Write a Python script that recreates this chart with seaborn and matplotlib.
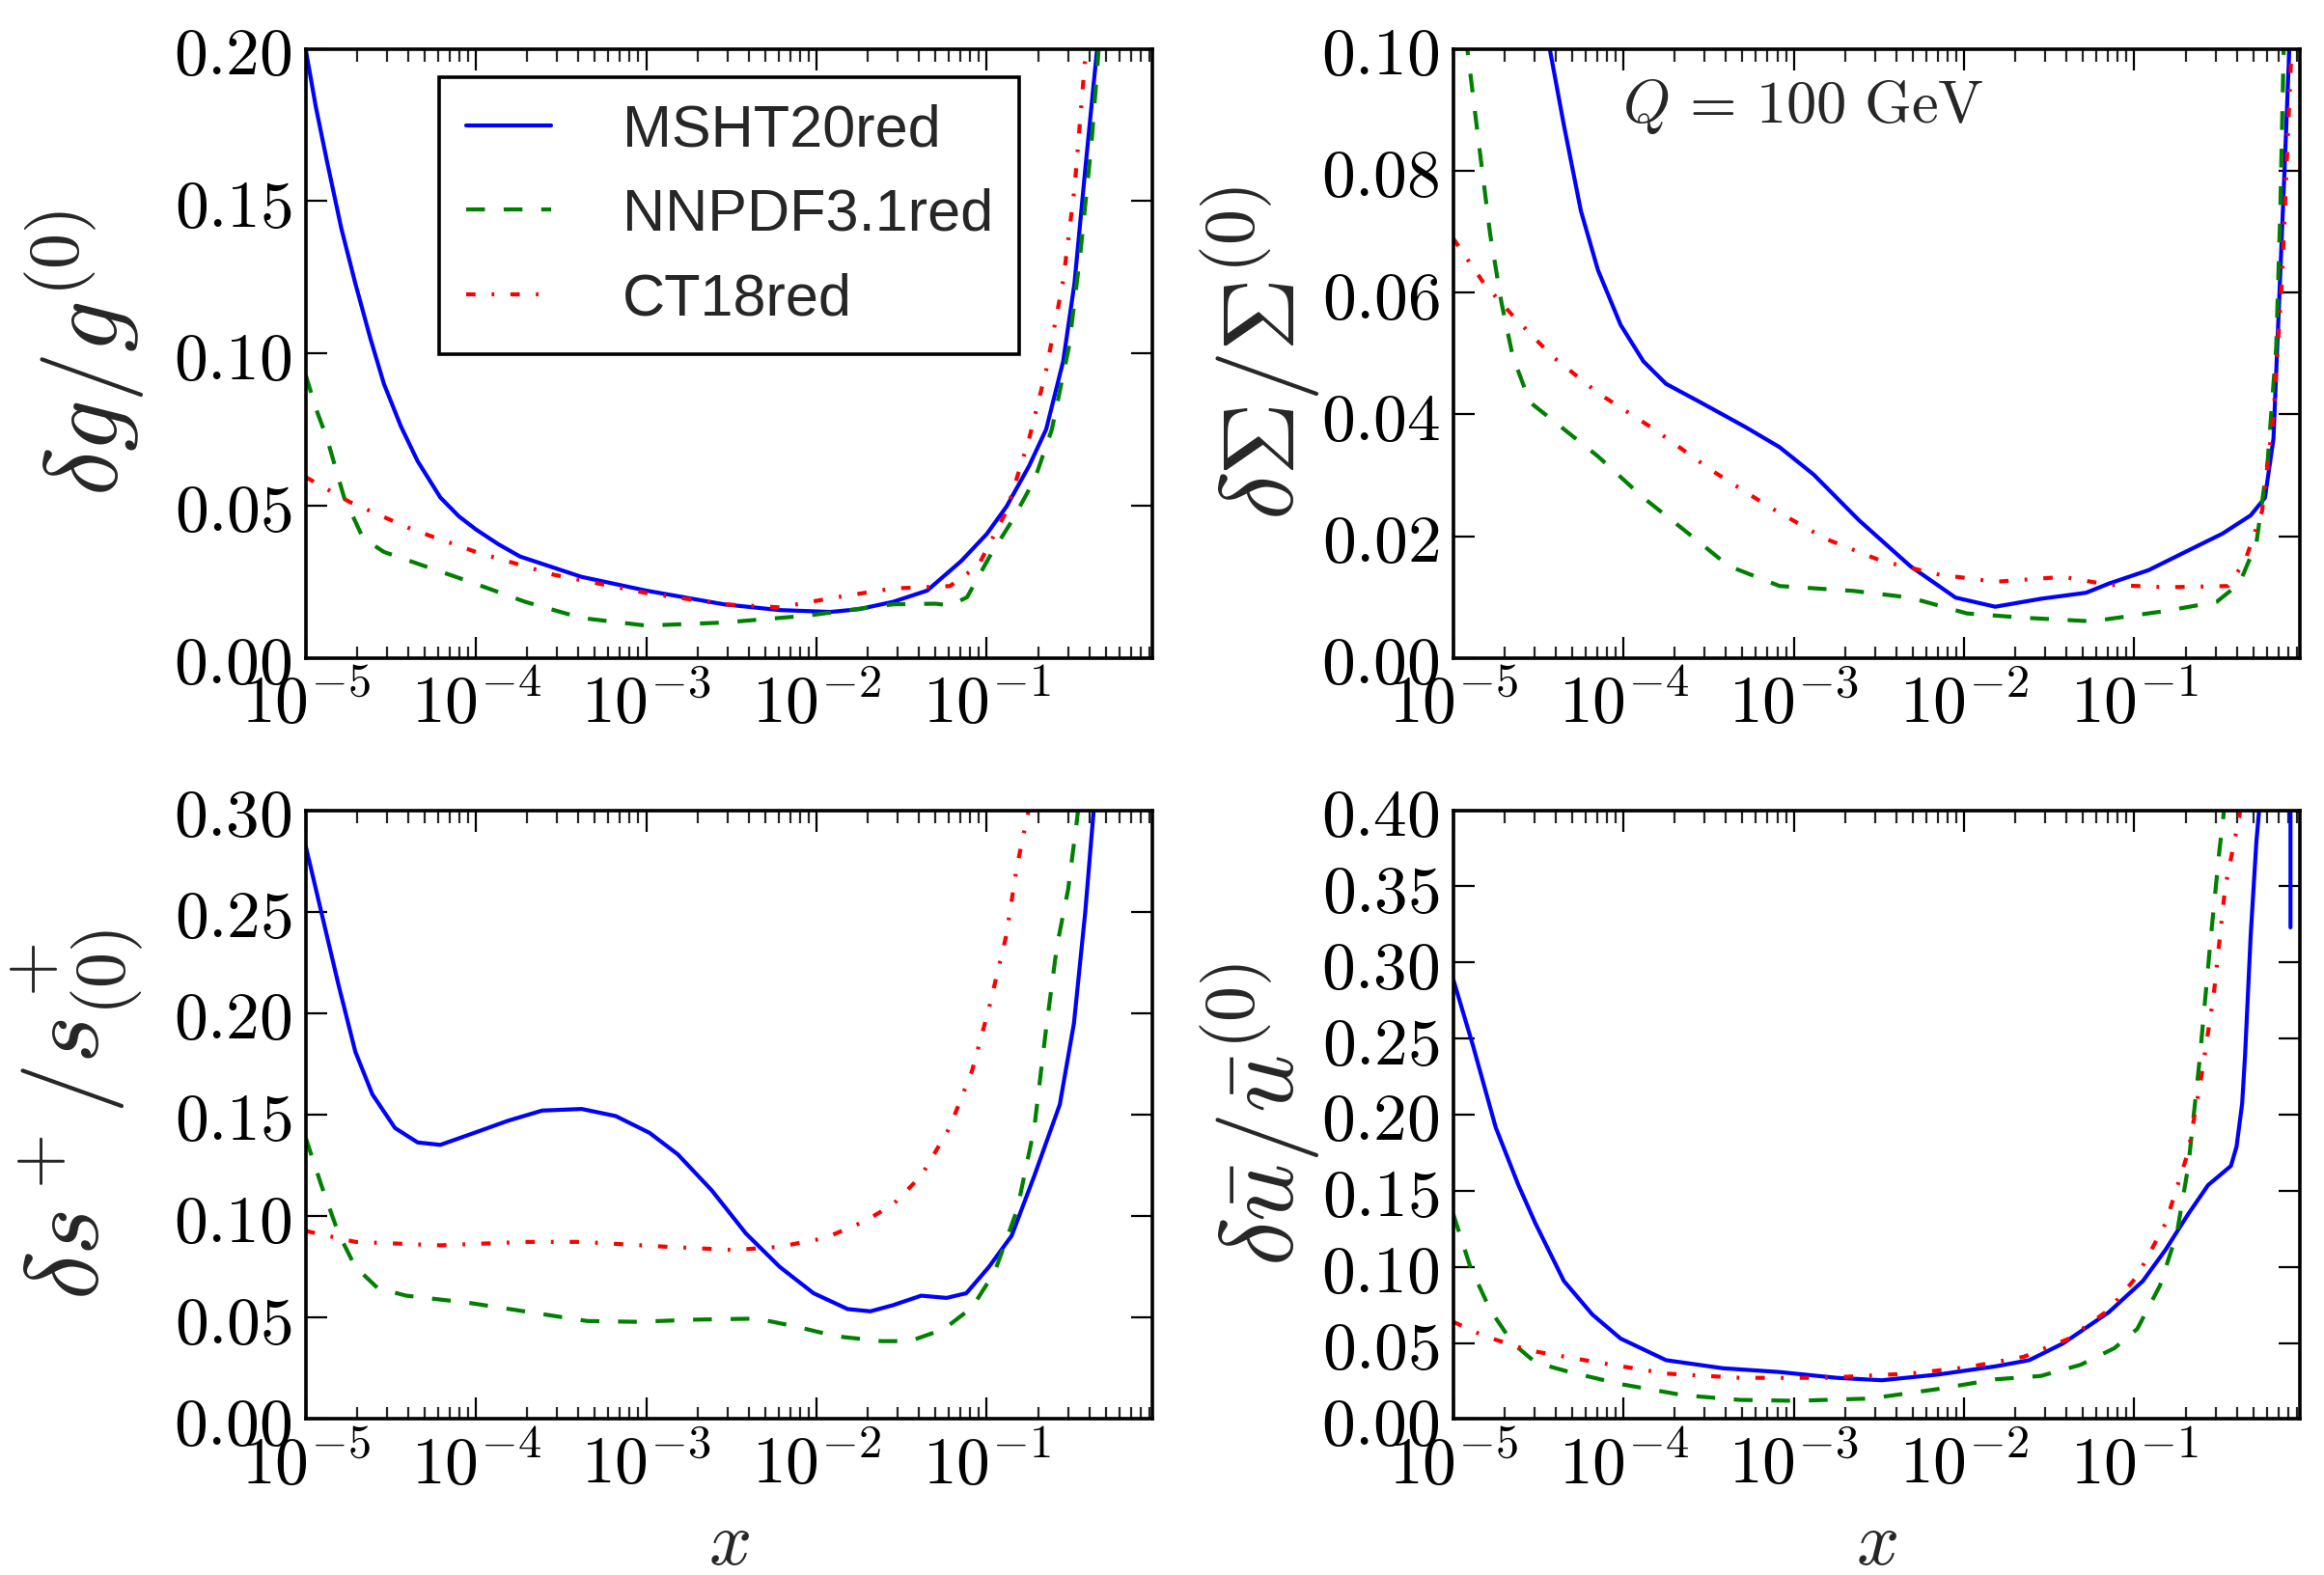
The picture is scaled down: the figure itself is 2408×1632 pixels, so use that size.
import numpy as np
import pandas as pd
import matplotlib
matplotlib.use("Agg")
import matplotlib.pyplot as plt
from matplotlib.ticker import FuncFormatter, LogLocator, FixedLocator, NullFormatter
import seaborn as sns

# ---------------- data (x given as log10(x)) ----------------
sets = ["MSHT20red", "NNPDF3.1red", "CT18red"]

# delta g / g
g_msht_lx = [-5, -4.94, -4.874, -4.79, -4.708, -4.62, -4.54, -4.44, -4.342, -4.209, -4.1, -4.0, -3.87, -3.741,
             -3.379, -3.0, -2.545, -2.216, -1.917, -1.75, -1.551, -1.35, -1.15, -1.0, -0.884, -0.751, -0.651,
             -0.551, -0.485, -0.419, -0.352, -0.32]
g_msht = [0.200, 0.181, 0.163, 0.141, 0.123, 0.105, 0.090, 0.076, 0.0646, 0.0527, 0.0465, 0.0422, 0.0374, 0.0333,
          0.0266, 0.0221, 0.0176, 0.0157, 0.0151, 0.0160, 0.0184, 0.0221, 0.0318, 0.0407, 0.0497, 0.0631, 0.0751,
          0.0975, 0.123, 0.162, 0.200, 0.22]
g_nnpdf_lx = [-5, -4.94, -4.874, -4.774, -4.674, -4.60, -4.54, -4.309, -4.04, -3.71, -3.379, -3.0, -2.545, -2.05,
              -1.55, -1.3, -1.216, -1.116, -0.983, -0.85, -0.718, -0.618, -0.518, -0.452, -0.385, -0.352, -0.33]
g_nnpdf = [0.093, 0.082, 0.072, 0.0527, 0.0407, 0.0370, 0.0348, 0.0303, 0.0251, 0.0184, 0.0131, 0.0106, 0.0116,
           0.0139, 0.0176, 0.0178, 0.0172, 0.0199, 0.0333, 0.0452, 0.0587, 0.075, 0.102, 0.132, 0.169, 0.193, 0.21]
g_ct_lx = [-5, -4.741, -4.375, -4.0, -3.542, -3.0, -2.545, -2.216, -1.884, -1.551, -1.216, -1.05, -0.884,
           -0.751, -0.651, -0.551, -0.485, -0.419, -0.39]
g_ct = [0.0594, 0.0512, 0.0422, 0.0348, 0.0273, 0.0213, 0.0176, 0.0166, 0.0199, 0.0228, 0.0236, 0.0303, 0.0482,
        0.072, 0.0945, 0.124, 0.154, 0.199, 0.22]

# delta Sigma / Sigma
S_msht_lx = [-4.5, -4.433, -4.35, -4.25, -4.15, -4.017, -3.883, -3.75, -3.55, -3.283, -3.083, -2.883, -2.617,
             -2.317, -2.05, -1.817, -1.55, -1.283, -1.15, -0.917, -0.65, -0.483, -0.317, -0.233, -0.183, -0.15,
             -0.117, -0.09, -0.08]
S_msht = [0.112, 0.100, 0.0875, 0.0734, 0.0637, 0.0547, 0.0487, 0.045, 0.042, 0.0379, 0.0346, 0.0301, 0.0226,
          0.0151, 0.0099, 0.0084, 0.0097, 0.0107, 0.0122, 0.0144, 0.0181, 0.0204, 0.0234, 0.0263, 0.036, 0.0584,
          0.0808, 0.100, 0.110]
S_nnpdf_lx = [-5, -4.917, -4.85, -4.783, -4.717, -4.65, -4.55, -4.383, -4.15, -3.883, -3.617, -3.383, -3.083,
              -2.65, -2.317, -1.983, -1.65, -1.25, -0.817, -0.517, -0.383, -0.283, -0.217, -0.167, -0.143,
              -0.123, -0.11]
S_nnpdf = [0.125, 0.100, 0.0846, 0.0696, 0.0584, 0.0495, 0.042, 0.0383, 0.0331, 0.0263, 0.0204, 0.0151, 0.0118,
           0.011, 0.0099, 0.0073, 0.0066, 0.006, 0.0077, 0.0092, 0.0122, 0.0189, 0.0323, 0.051, 0.0734,
           0.100, 0.110]
S_ct_lx = [-5, -4.817, -4.65, -4.417, -4.15, -3.817, -3.483, -3.15, -2.817, -2.483, -2.15, -1.817, -1.417,
           -1.15, -0.817, -0.45, -0.35, -0.25, -0.183, -0.133, -0.1, -0.077, -0.06]
S_ct = [0.0689, 0.0614, 0.0562, 0.0495, 0.0435, 0.0375, 0.0308, 0.0249, 0.0196, 0.0159, 0.0137, 0.0125, 0.0133,
        0.012, 0.0116, 0.0118, 0.0159, 0.0241, 0.0398, 0.0622, 0.0846, 0.100, 0.115]

# delta s+ / s+
sp_msht_lx = [-5, -4.907, -4.807, -4.708, -4.608, -4.475, -4.342, -4.209, -4.01, -3.811, -3.611, -3.379, -3.179,
              -2.98, -2.814, -2.615, -2.415, -2.216, -2.017, -1.817, -1.684, -1.551, -1.385, -1.236, -1.12,
              -0.987, -0.854, -0.721, -0.571, -0.488, -0.422, -0.372, -0.35]
sp_msht = [0.2825, 0.2495, 0.214, 0.181, 0.160, 0.1434, 0.1363, 0.1351, 0.141, 0.147, 0.152, 0.1528, 0.1493,
           0.141, 0.1304, 0.1127, 0.0915, 0.075, 0.062, 0.0542, 0.0531, 0.0561, 0.0608, 0.0597, 0.062,
           0.075, 0.0903, 0.1198, 0.155, 0.195, 0.2495, 0.300, 0.32]
sp_nnpdf_lx = [-5, -4.907, -4.807, -4.708, -4.575, -4.409, -4.043, -3.678, -3.346, -3.047, -2.714, -2.349,
               -2.116, -1.884, -1.618, -1.452, -1.252, -1.086, -0.953, -0.821, -0.721, -0.654, -0.588, -0.522,
               -0.472, -0.45]
sp_nnpdf = [0.1387, 0.1151, 0.0915, 0.075, 0.0644, 0.0608, 0.0573, 0.0526, 0.0483, 0.0479, 0.049, 0.0495,
            0.0455, 0.0408, 0.0384, 0.0384, 0.0443, 0.055, 0.0726, 0.1033, 0.1434, 0.1906, 0.233, 0.261,
            0.294, 0.31]
sp_ct_lx = [-5, -4.708, -4.209, -3.711, -3.379, -2.88, -2.482, -2.216, -1.95, -1.718, -1.551, -1.385, -1.219,
            -1.086, -0.987, -0.887, -0.821, -0.754, -0.73]
sp_ct = [0.0927, 0.0873, 0.0856, 0.0873, 0.0873, 0.0849, 0.0833, 0.0849, 0.0892, 0.0974, 0.1057, 0.1198, 0.1434,
         0.1717, 0.2024, 0.2377, 0.273, 0.300, 0.31]

# delta ubar / ubar
u_msht_lx = [-5, -4.883, -4.75, -4.617, -4.517, -4.35, -4.183, -4.017, -3.75, -3.417, -3.083, -2.75, -2.483,
             -2.15, -1.817, -1.617, -1.417, -1.15, -0.95, -0.817, -0.683, -0.567, -0.5, -0.433, -0.4, -0.367,
             -0.35, -0.317, -0.283, -0.267, -0.25, -0.084, -0.083]
u_msht = [0.289, 0.245, 0.1915, 0.1537, 0.1285, 0.0907, 0.0687, 0.0529, 0.0387, 0.0334, 0.0309, 0.0271, 0.0255,
          0.0293, 0.0346, 0.0387, 0.0498, 0.0702, 0.0907, 0.1112, 0.1348, 0.1537, 0.160, 0.1663, 0.1789, 0.2072,
          0.2387, 0.3175, 0.380, 0.400, 0.450, 3.0, 0.323]
u_nnpdf_lx = [-5, -4.9, -4.783, -4.65, -4.517, -4.317, -4.017, -3.65, -3.317, -2.983, -2.55, -2.15, -1.817,
              -1.55, -1.317, -1.117, -0.983, -0.85, -0.75, -0.683, -0.617, -0.55, -0.5, -0.477, -0.46]
u_nnpdf = [0.1348, 0.1002, 0.0718, 0.0498, 0.0372, 0.0309, 0.023, 0.0157, 0.0126, 0.012, 0.0135, 0.0198, 0.0261,
           0.0283, 0.0356, 0.0466, 0.0592, 0.0876, 0.1222, 0.1663, 0.2356, 0.3175, 0.374, 0.396, 0.42]
u_ct_lx = [-5, -4.817, -4.55, -4.15, -3.75, -3.317, -2.817, -2.317, -1.983, -1.65, -1.383, -1.15, -0.983,
           -0.817, -0.683, -0.6, -0.533, -0.467, -0.383, -0.36]
u_ct = [0.0639, 0.0545, 0.045, 0.0372, 0.0299, 0.0271, 0.0271, 0.0299, 0.034, 0.0409, 0.0529, 0.0718, 0.0939,
        0.1285, 0.1758, 0.2293, 0.2797, 0.349, 0.396, 0.42]

panels = [
    dict(series=[(g_msht_lx, g_msht), (g_nnpdf_lx, g_nnpdf), (g_ct_lx, g_ct)],
         ylim=(0, 0.20), yticks=[0, 0.05, 0.10, 0.15, 0.20], ylabel=r"$\delta g/g^{(0)}$"),
    dict(series=[(S_msht_lx, S_msht), (S_nnpdf_lx, S_nnpdf), (S_ct_lx, S_ct)],
         ylim=(0, 0.10), yticks=[0, 0.02, 0.04, 0.06, 0.08, 0.10], ylabel=r"$\delta\Sigma/\Sigma^{(0)}$"),
    dict(series=[(sp_msht_lx, sp_msht), (sp_nnpdf_lx, sp_nnpdf), (sp_ct_lx, sp_ct)],
         ylim=(0, 0.30), yticks=[0, 0.05, 0.10, 0.15, 0.20, 0.25, 0.30], ylabel=r"$\delta s^+/s^+_{(0)}$"),
    dict(series=[(u_msht_lx, u_msht), (u_nnpdf_lx, u_nnpdf), (u_ct_lx, u_ct)],
         ylim=(0, 0.40), yticks=[0, 0.05, 0.10, 0.15, 0.20, 0.25, 0.30, 0.35, 0.40],
         ylabel=r"$\delta\bar{u}/\bar{u}^{(0)}$"),
]
xticks_major = [1e-5, 1e-4, 1e-3, 1e-2, 1e-1]
xlim = (1e-5, 0.94)

# ---------------- style ----------------
sns.set_style("ticks")
plt.rcParams.update({
    "mathtext.fontset": "cm",
    "font.family": ["DejaVu Sans"],
    "lines.scale_dashes": False,
    "axes.linewidth": 1.3,
    "axes.edgecolor": "black",
    "xtick.direction": "in",
    "ytick.direction": "in",
    "xtick.top": True,
    "ytick.right": True,
})

palette = {"MSHT20red": "#0000ff", "NNPDF3.1red": "#008000", "CT18red": "#ff0000"}
dashes = {"MSHT20red": "", "NNPDF3.1red": (7, 7), "CT18red": (3.5, 6, 1, 6)}

fig = plt.figure(figsize=(12.04, 8.16), dpi=200)
left_cols = [0.1315, 0.6253]
bottoms = [0.5823, 0.0990]
w, h = 0.3644, 0.3866
axes = []
for r in range(2):
    for c in range(2):
        axes.append(fig.add_axes([left_cols[c], bottoms[r], w, h]))

label_x = [-0.188, -0.155, -0.188, -0.155]

for i, (ax, p) in enumerate(zip(axes, panels)):
    rows = []
    for name, (lx, vals) in zip(sets, p["series"]):
        for a, b in zip(lx, vals):
            rows.append((name, 10.0 ** a, b))
    df = pd.DataFrame(rows, columns=["set", "x", "y"])
    sns.lineplot(data=df, x="x", y="y", hue="set", style="set", hue_order=sets, style_order=sets,
                 palette=palette, dashes=dashes, estimator=None, sort=False, legend=False,
                 linewidth=1.5, ax=ax)
    ax.set_xscale("log")
    ax.set_xlim(*xlim)
    ax.set_ylim(*p["ylim"])
    ax.xaxis.set_major_locator(FixedLocator(xticks_major))
    ax.xaxis.set_minor_locator(LogLocator(base=10, subs=np.arange(2, 10), numticks=20))
    ax.xaxis.set_minor_formatter(NullFormatter())
    ax.xaxis.set_major_formatter(FuncFormatter(lambda v, pos: r"$10^{%d}$" % int(round(np.log10(v)))))
    ax.yaxis.set_major_locator(FixedLocator(p["yticks"]))
    ax.yaxis.set_major_formatter(FuncFormatter(lambda v, pos: r"$%.2f$" % v))
    ax.tick_params(which="major", length=8, width=0.8, labelsize=25, colors="black")
    ax.tick_params(which="minor", length=4.5, width=0.8)
    ax.tick_params(axis="x", which="major", pad=5)
    ax.tick_params(axis="y", which="major", pad=5)
    for s in ax.spines.values():
        s.set_visible(True)
        s.set_linewidth(1.3)
    ax.set_xlabel("")
    ax.set_ylabel(p["ylabel"], fontsize=38)
    ax.yaxis.set_label_coords(label_x[i], 0.5)
    if i >= 2:
        ax.set_xlabel(r"$x$", fontsize=28, va="baseline")
        ax.xaxis.set_label_coords(0.5, -0.238)

# legend in first panel
ax0 = axes[0]
handles = ax0.get_lines()[:3]
leg = ax0.legend(handles, sets, loc="upper left", bbox_to_anchor=(0.158, 0.954), borderaxespad=0,
                 frameon=True, fancybox=False, edgecolor="black", framealpha=1.0,
                 prop={"family": "Liberation Sans", "size": 22},
                 handlelength=1.45, handletextpad=1.2, labelspacing=0.5, borderpad=0.45)
leg.get_frame().set_linewidth(1.3)

axes[1].text(0.2, 0.879, r"$Q\,=\,100\ \mathrm{GeV}$", transform=axes[1].transAxes,
             fontsize=22.5, ha="left", va="baseline")

fig.savefig("out.png", dpi=200)
